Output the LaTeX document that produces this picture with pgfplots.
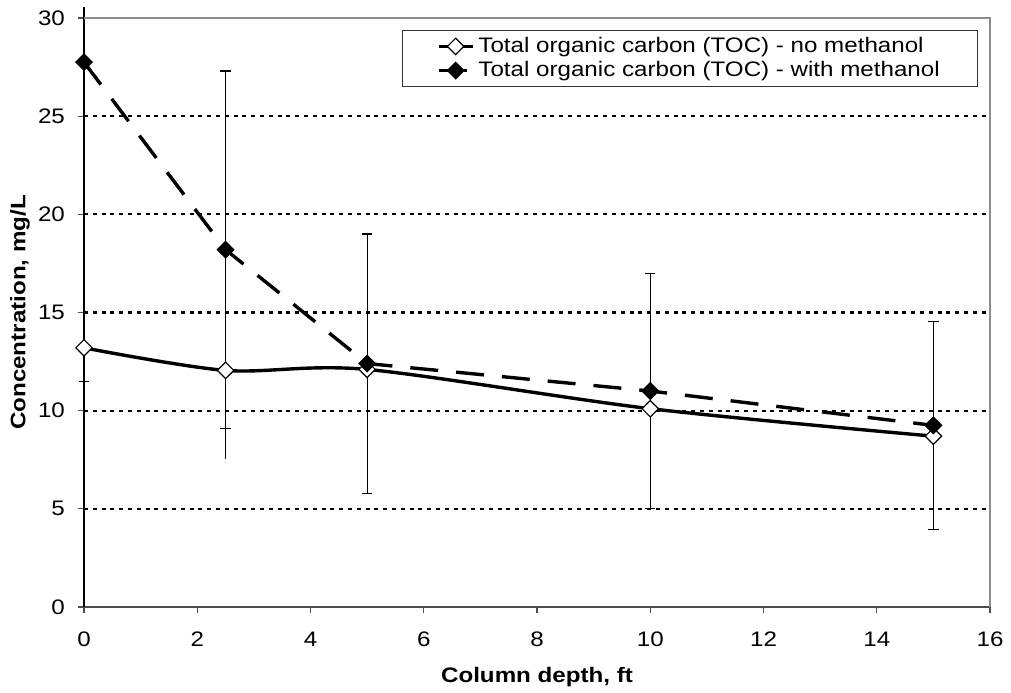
\documentclass[border=0pt]{standalone}
\usepackage{pgfplots}
\pgfplotsset{compat=1.18}
\usepackage{fontspec}
\setmainfont{Liberation Sans}[FakeStretch=1.15]
\begin{document}
\begin{tikzpicture}
\begin{axis}[
  scale only axis,
  width=453pt, height=294.5pt,
  xmin=0, xmax=16, ymin=0, ymax=30,
  xtick={0,2,...,16}, ytick={0,5,...,30},
  axis lines=left,
  axis line style={-, black, line width=0.6pt},
  x axis line style={draw=black!70},
  tick align=outside,
  major tick length=3pt,
  tick style={black!70, line width=0.6pt},
  ymajorgrids,
  grid style={black, line width=1.1pt, dash pattern=on 2pt off 2.4pt},
  /pgf/number format/assume math mode=true,
  tick label style={font=\fontsize{10.5}{12}\selectfont},
  xticklabel style={yshift=-6pt},
  yticklabel style={xshift=-3pt},
  xlabel={\bfseries Column depth, ft},
  ylabel={\bfseries Concentration, mg/L},
  label style={font=\fontsize{10.5}{12}\selectfont},
  every axis x label/.append style={at={(rel axis cs:0.5,0)}, anchor=center, yshift=-35pt},
  every axis y label/.append style={at={(rel axis cs:0,0.5)}, anchor=center, rotate=0, xshift=0pt, yshift=32pt},
  clip=false,
  legend style={at={(rel axis cs:0.987,0.98)}, anchor=north east,
    draw=black!80, line width=0.5pt, font=\fontsize{10.5}{12}\selectfont,
    cells={anchor=west}, inner xsep=17pt, inner ysep=1.5pt, row sep=-1pt},
]
% error bars for no-methanol (no caps)
\addplot[draw=none, forget plot,
  error bars/.cd, y dir=both, y explicit, error mark=none,
  error bar style={black, line width=0.6pt}]
  coordinates {(0,13.2) +- (0,5.0) (2.5,12.05) +- (0,4.5) (5,12.1) +- (0,5.5) (10,10.1) +- (0,4.5) (15,8.7) +- (0,4.5)};
% error bars for with-methanol (caps)
\addplot[draw=none, forget plot,
  error bars/.cd, y dir=both, y explicit,
  error mark options={rotate=90, mark size=2.6pt, black, line width=0.6pt},
  error bar style={black, line width=0.6pt}]
  coordinates {(2.5,18.2) +- (0,9.1) (5,12.4) +- (0,6.6) (10,11.0) +- (0,6.0) (15,9.25) +- (0,5.3)};
\addplot[draw=none, forget plot,
  error bars/.cd, y dir=minus, y explicit,
  error mark options={rotate=90, mark size=2.6pt, black, line width=0.6pt},
  error bar style={black, line width=0.6pt}]
  coordinates {(0,27.75) -= (0,16.25)};
\addplot[draw=none, forget plot,
  error bars/.cd, y dir=plus, y explicit, error mark=none,
  error bar style={black, line width=0.6pt}]
  coordinates {(0,27.75) += (0,2.8)};
% series
\addplot[black, line width=1.7pt, smooth, tension=0.5,
  mark=square*, mark size=2.9pt, mark options={rotate=45, fill=white, solid, line width=0.6pt}]
  coordinates {(0,13.2) (2.5,12.05) (5,12.1) (10,10.1) (15,8.7)};
\addlegendentry{Total organic carbon (TOC) - no methanol}
\addplot[black, line width=1.7pt, dash pattern=on 14pt off 9pt,
  mark=square*, mark size=2.9pt, mark options={rotate=45, fill=black, solid, line width=0.6pt}]
  coordinates {(0,27.75) (2.5,18.2) (5,12.4) (10,11.0) (15,9.25)};
\addlegendentry{Total organic carbon (TOC) - with methanol}
\draw[black!45, line width=0.6pt] (rel axis cs:0,1) -- (rel axis cs:1,1) -- (rel axis cs:1,0);
\coordinate (bl) at (rel axis cs:0,0);
\coordinate (tr) at (rel axis cs:1,1);
\end{axis}
\pgfresetboundingbox
\path ([xshift=-42pt,yshift=-43pt]bl) rectangle ([xshift=10.5pt,yshift=9pt]tr);
\end{tikzpicture}
\end{document}
